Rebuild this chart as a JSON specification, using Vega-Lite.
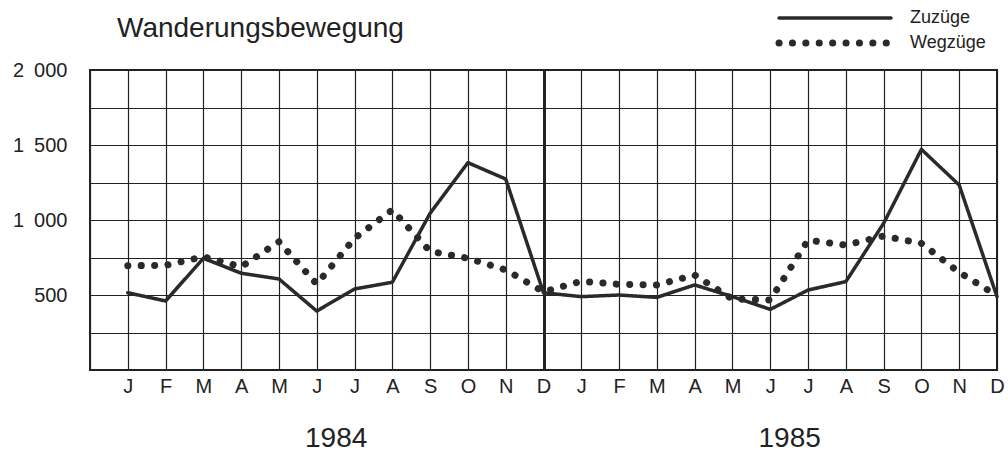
{
  "$schema": "https://vega.github.io/schema/vega-lite/v6.json",
  "width": 907,
  "height": 300,
  "autosize": {"type": "none"},
  "padding": {"left": 90, "top": 70, "right": 11, "bottom": 84},
  "background": "white",
  "config": {
    "view": {"stroke": "#222", "strokeWidth": 2},
    "font": "Liberation Sans"
  },
  "title": {
    "text": "Wanderungsbewegung",
    "anchor": "start",
    "frame": "group",
    "dx": 27,
    "dy": 56,
    "offset": 0,
    "baseline": "alphabetic",
    "fontSize": 28,
    "fontWeight": "normal",
    "color": "#222",
    "font": "Liberation Sans"
  },
  "data": {
    "values": [
      {"m": 1, "s": "Zuzüge", "v": 515}, {"m": 2, "s": "Zuzüge", "v": 460}, {"m": 3, "s": "Zuzüge", "v": 745},
      {"m": 4, "s": "Zuzüge", "v": 645}, {"m": 5, "s": "Zuzüge", "v": 607}, {"m": 6, "s": "Zuzüge", "v": 393},
      {"m": 7, "s": "Zuzüge", "v": 540}, {"m": 8, "s": "Zuzüge", "v": 585}, {"m": 9, "s": "Zuzüge", "v": 1045},
      {"m": 10, "s": "Zuzüge", "v": 1382}, {"m": 11, "s": "Zuzüge", "v": 1273}, {"m": 12, "s": "Zuzüge", "v": 515},
      {"m": 13, "s": "Zuzüge", "v": 489}, {"m": 14, "s": "Zuzüge", "v": 500}, {"m": 15, "s": "Zuzüge", "v": 484},
      {"m": 16, "s": "Zuzüge", "v": 567}, {"m": 17, "s": "Zuzüge", "v": 489}, {"m": 18, "s": "Zuzüge", "v": 404},
      {"m": 19, "s": "Zuzüge", "v": 533}, {"m": 20, "s": "Zuzüge", "v": 589}, {"m": 21, "s": "Zuzüge", "v": 978},
      {"m": 22, "s": "Zuzüge", "v": 1471}, {"m": 23, "s": "Zuzüge", "v": 1233}, {"m": 24, "s": "Zuzüge", "v": 489},
      {"m": 1, "s": "Wegzüge", "v": 695}, {"m": 2, "s": "Wegzüge", "v": 698}, {"m": 3, "s": "Wegzüge", "v": 755},
      {"m": 4, "s": "Wegzüge", "v": 688}, {"m": 5, "s": "Wegzüge", "v": 855}, {"m": 6, "s": "Wegzüge", "v": 573},
      {"m": 7, "s": "Wegzüge", "v": 878}, {"m": 8, "s": "Wegzüge", "v": 1067}, {"m": 9, "s": "Wegzüge", "v": 791},
      {"m": 10, "s": "Wegzüge", "v": 745}, {"m": 11, "s": "Wegzüge", "v": 667}, {"m": 12, "s": "Wegzüge", "v": 522},
      {"m": 13, "s": "Wegzüge", "v": 591}, {"m": 14, "s": "Wegzüge", "v": 571}, {"m": 15, "s": "Wegzüge", "v": 567},
      {"m": 16, "s": "Wegzüge", "v": 633}, {"m": 17, "s": "Wegzüge", "v": 473}, {"m": 18, "s": "Wegzüge", "v": 467},
      {"m": 19, "s": "Wegzüge", "v": 865}, {"m": 20, "s": "Wegzüge", "v": 833}, {"m": 21, "s": "Wegzüge", "v": 893},
      {"m": 22, "s": "Wegzüge", "v": 844}, {"m": 23, "s": "Wegzüge", "v": 651}, {"m": 24, "s": "Wegzüge", "v": 496}
    ]
  },
  "layer": [
    {
      "mark": {"type": "line", "strokeCap": "round", "strokeJoin": "round", "color": "#2a2a2a"},
      "encoding": {
        "x": {
          "field": "m", "type": "quantitative",
          "scale": {"domain": [0, 24], "nice": false, "zero": false},
          "axis": {
            "orient": "bottom",
            "title": null,
            "values": [0,1,2,3,4,5,6,7,8,9,10,11,12,13,14,15,16,17,18,19,20,21,22,23,24],
            "labelExpr": "datum.value >= 1 ? substring('JFMAMJJASOND', (datum.value - 1) % 12, (datum.value - 1) % 12 + 1) : ''",
            "grid": true,
            "gridColor": "#222",
            "gridOpacity": 1,
            "gridWidth": {"condition": {"test": "datum.value == 12", "value": 3}, "value": 1.2},
            "ticks": false,
            "tickSize": 0,
            "domain": false,
            "labelFontSize": 20,
            "labelColor": "#222",
            "labelPadding": 6,
            "labelFlush": false,
            "labelOverlap": false,
            "labelFont": "Liberation Sans"
          }
        },
        "y": {
          "field": "v", "type": "quantitative",
          "scale": {"domain": [0, 2000], "nice": false, "zero": true},
          "axis": {
            "title": null,
            "values": [0, 250, 500, 750, 1000, 1250, 1500, 1750, 2000],
            "labelExpr": "datum.value % 500 == 0 && datum.value > 0 ? replace(format(datum.value, ','), ',', '\u2002') : ''",
            "grid": true,
            "gridColor": "#222",
            "gridOpacity": 1,
            "gridWidth": 1.2,
            "ticks": false,
            "tickSize": 0,
            "domain": false,
            "labelFontSize": 20,
            "labelColor": "#222",
            "labelPadding": 23,
            "labelFlush": false,
            "labelOverlap": false,
            "labelFont": "Liberation Sans"
          }
        },
        "strokeDash": {
          "field": "s", "type": "nominal",
          "scale": {"domain": ["Zuzüge", "Wegzüge"], "range": [[1, 0], [0.1, 13.3]]},
          "legend": {
            "orient": "none",
            "legendX": 685,
            "legendY": -61,
            "title": null,
            "padding": 0,
            "symbolType": "M-1,0H21.4",
            "symbolSize": 100,
            "symbolStrokeColor": "#2a2a2a",
            "symbolFillColor": "transparent",
            "labelOffset": 117,
            "labelFontSize": 18,
            "labelColor": "#222",
            "labelFont": "Liberation Sans",
            "rowPadding": 2,
            "encode": {"symbols": {"update": {"strokeCap": {"value": "round"}}}}
          }
        },
        "strokeWidth": {
          "field": "s", "type": "ordinal",
          "scale": {"domain": ["Zuzüge", "Wegzüge"], "range": [3.5, 7]},
          "legend": {
            "orient": "none",
            "legendX": 685,
            "legendY": -61,
            "title": null,
            "padding": 0,
            "symbolType": "M-1,0H21.4",
            "symbolSize": 100,
            "symbolStrokeColor": "#2a2a2a",
            "symbolFillColor": "transparent",
            "labelOffset": 117,
            "labelFontSize": 18,
            "labelColor": "#222",
            "labelFont": "Liberation Sans",
            "rowPadding": 2,
            "encode": {"symbols": {"update": {"strokeCap": {"value": "round"}}}}
          }
        }
      }
    },
    {
      "mark": {"type": "point", "opacity": 0},
      "encoding": {
        "x": {
          "field": "m", "type": "quantitative",
          "axis": {
            "orient": "bottom",
            "title": null,
            "values": [6.5, 18.5],
            "labelExpr": "datum.value < 12 ? '1984' : '1985'",
            "grid": false,
            "ticks": false,
            "tickSize": 0,
            "domain": false,
            "labelFontSize": 28,
            "labelColor": "#222",
            "labelPadding": 54,
            "labelFlush": false,
            "labelFont": "Liberation Sans"
          }
        }
      }
    }
  ],
  "resolve": {"axis": {"x": "independent"}}
}
